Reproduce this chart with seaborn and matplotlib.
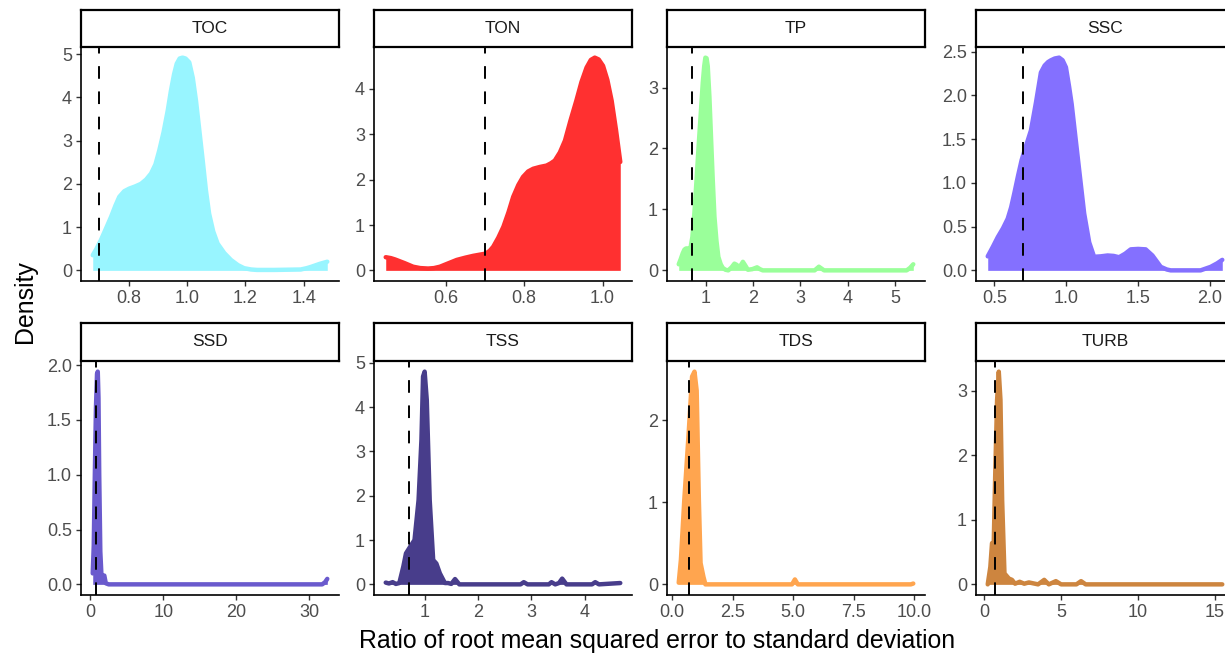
import matplotlib
matplotlib.use("Agg")
import matplotlib.pyplot as plt
import seaborn as sns
import pandas as pd

# ---------------- data ----------------
variables = ["TOC", "TON", "TP", "SSC", "SSD", "TSS", "TDS", "TURB"]
colors = ["#98F5FF", "#FF3030", "#9AFF9A", "#8470FF",
          "#6A5ACD", "#483D8B", "#FFA54F", "#CD853F"]
threshold = 0.7

toc_x = [0.677, 0.69, 0.705, 0.722, 0.740, 0.755, 0.768, 0.785, 0.802, 0.822, 0.842, 0.860,
         0.877, 0.892, 0.905, 0.920, 0.934, 0.945, 0.956, 0.965, 0.975, 0.985, 0.995, 1.008,
         1.020, 1.031, 1.043, 1.054, 1.065, 1.076, 1.090, 1.105, 1.128, 1.151, 1.175, 1.196,
         1.220, 1.240, 1.300, 1.390, 1.410, 1.425, 1.455, 1.481]
toc_d = [0.35, 0.50, 0.70, 0.96, 1.24, 1.50, 1.70, 1.83, 1.89, 1.94, 2.00, 2.10,
         2.24, 2.45, 2.77, 3.20, 3.69, 4.15, 4.54, 4.78, 4.90, 4.92, 4.90, 4.81,
         4.45, 3.92, 3.20, 2.54, 1.85, 1.31, 0.90, 0.62, 0.40, 0.24, 0.12, 0.05,
         0.02, 0.01, 0.01, 0.02, 0.05, 0.08, 0.15, 0.20]

ton_x = [0.447, 0.460, 0.471, 0.495, 0.517, 0.535, 0.555, 0.570, 0.585, 0.605, 0.628, 0.650,
         0.670, 0.702, 0.712, 0.721, 0.734, 0.747, 0.760, 0.772, 0.785, 0.797, 0.810, 0.823,
         0.840, 0.857, 0.868, 0.878, 0.891, 0.904, 0.918, 0.933, 0.946, 0.959, 0.970, 0.980,
         0.990, 1.001, 1.012, 1.023, 1.034, 1.045]
ton_d = [0.29, 0.27, 0.24, 0.16, 0.08, 0.05, 0.04, 0.05, 0.08, 0.15, 0.23, 0.28,
         0.32, 0.37, 0.43, 0.52, 0.72, 0.96, 1.28, 1.62, 1.88, 2.06, 2.18, 2.24,
         2.28, 2.31, 2.36, 2.42, 2.60, 2.86, 3.30, 3.74, 4.15, 4.47, 4.64, 4.69,
         4.65, 4.51, 4.20, 3.74, 3.10, 2.39]

tp_x = [0.42, 0.46, 0.505, 0.54, 0.575, 0.62, 0.667, 0.71, 0.752, 0.795, 0.837, 0.885, 0.93,
        0.96, 0.985, 1.01, 1.035, 1.07, 1.106, 1.14, 1.177, 1.22, 1.26, 1.31, 1.354, 1.41,
        1.47, 1.54, 1.60, 1.65, 1.69, 1.74, 1.78, 1.83, 1.885, 1.98, 2.08, 2.14, 2.20,
        3.30, 3.39, 3.50, 5.25, 5.32, 5.39]
tp_d = [0.10, 0.18, 0.28, 0.34, 0.36, 0.36, 0.36, 0.55, 0.94, 1.45, 1.98, 2.55, 3.08,
        3.35, 3.49, 3.48, 3.35, 2.85, 2.15, 1.50, 0.88, 0.48, 0.22, 0.10, 0.04, 0.01,
        0.0, 0.05, 0.11, 0.09, 0.05, 0.09, 0.14, 0.08, 0.01, 0.02, 0.05, 0.02, 0.0,
        0.0, 0.06, 0.0, 0.0, 0.04, 0.10]

ssc_x = [0.454, 0.490, 0.524, 0.560, 0.593, 0.617, 0.639, 0.665, 0.690, 0.720, 0.755, 0.790,
         0.810, 0.824, 0.850, 0.874, 0.894, 0.920, 0.951, 0.975, 0.998, 1.020, 1.038, 1.056,
         1.090, 1.125, 1.160, 1.194, 1.240, 1.288, 1.330, 1.368, 1.410, 1.449, 1.500, 1.553,
         1.600, 1.658, 1.700, 1.727, 1.935, 2.005, 2.050, 2.086]
ssc_d = [0.16, 0.27, 0.38, 0.48, 0.59, 0.72, 0.88, 1.08, 1.26, 1.42, 1.60, 1.92,
         2.12, 2.26, 2.34, 2.38, 2.40, 2.42, 2.43, 2.40, 2.32, 2.10, 1.90, 1.64,
         1.15, 0.65, 0.32, 0.155, 0.16, 0.17, 0.165, 0.15, 0.19, 0.24, 0.245, 0.24,
         0.17, 0.04, 0.01, 0.0, 0.0, 0.04, 0.08, 0.12]

ssd_x = [0.31, 0.45, 0.6, 0.75, 0.9, 1.0, 1.1, 1.2, 1.35, 1.5, 1.7, 1.9, 2.1, 2.5, 31.8, 32.2, 32.5]
ssd_d = [0.10, 0.35, 1.0, 1.6, 1.92, 1.94, 1.7, 1.0, 0.3, 0.09, 0.08, 0.08, 0.01, 0.0, 0.0, 0.02, 0.05]

tss_x = [0.27, 0.33, 0.40, 0.46, 0.525, 0.60, 0.65, 0.75, 0.81, 0.886, 0.94, 0.97, 1.0, 1.04,
         1.095, 1.16, 1.22, 1.285, 1.38, 1.44, 1.50, 1.57, 1.65, 2.80, 2.86, 2.93, 3.33, 3.38,
         3.45, 3.52, 3.58, 3.66, 4.14, 4.20, 4.27, 4.67]
tss_d = [0.04, 0.02, 0.05, 0.01, 0.03, 0.4, 0.7, 0.89, 1.0, 1.9, 3.26, 4.69, 4.8, 4.16,
         1.9, 0.55, 0.47, 0.25, 0.03, 0.03, 0.01, 0.12, 0.0, 0.0, 0.05, 0.0, 0.0, 0.05,
         0.0, 0.03, 0.13, 0.0, 0.0, 0.05, 0.0, 0.03]

tds_x = [0.28, 0.37, 0.51, 0.69, 0.83, 0.93, 1.02, 1.11, 1.18, 1.30, 1.38, 4.95, 5.07, 5.19, 9.85, 9.95]
tds_d = [0.02, 0.30, 1.03, 1.84, 2.53, 2.59, 2.36, 1.03, 0.26, 0.09, 0.0, 0.0, 0.06, 0.0, 0.0, 0.01]

turb_x = [0.22, 0.39, 0.5, 0.61, 0.72, 0.83, 0.94, 1.05, 1.16, 1.31, 1.6, 1.8, 2.0, 2.3, 2.6,
          2.9, 3.5, 3.9, 4.2, 4.66, 5.0, 6.0, 6.3, 6.6, 15.5]
turb_d = [0.0, 0.27, 0.64, 0.62, 1.83, 2.86, 3.30, 2.86, 1.3, 0.17, 0.09, 0.07, 0.01, 0.04, 0.01,
          0.03, 0.0, 0.07, 0.0, 0.05, 0.0, 0.0, 0.05, 0.0, 0.0]

x_ticks = {
    "TOC": [0.8, 1.0, 1.2, 1.4], "TON": [0.6, 0.8, 1.0], "TP": [1, 2, 3, 4, 5],
    "SSC": [0.5, 1.0, 1.5, 2.0], "SSD": [0, 10, 20, 30], "TSS": [1, 2, 3, 4],
    "TDS": [0.0, 2.5, 5.0, 7.5, 10.0], "TURB": [0, 5, 10, 15],
}
x_ticklabels = {
    "TOC": ["0.8", "1.0", "1.2", "1.4"], "TON": ["0.6", "0.8", "1.0"], "TP": ["1", "2", "3", "4", "5"],
    "SSC": ["0.5", "1.0", "1.5", "2.0"], "SSD": ["0", "10", "20", "30"], "TSS": ["1", "2", "3", "4"],
    "TDS": ["0.0", "2.5", "5.0", "7.5", "10.0"], "TURB": ["0", "5", "10", "15"],
}
y_ticks = {
    "TOC": [0, 1, 2, 3, 4, 5], "TON": [0, 1, 2, 3, 4], "TP": [0, 1, 2, 3],
    "SSC": [0.0, 0.5, 1.0, 1.5, 2.0, 2.5], "SSD": [0.0, 0.5, 1.0, 1.5, 2.0],
    "TSS": [0, 1, 2, 3, 4, 5], "TDS": [0, 1, 2], "TURB": [0, 1, 2, 3],
}
y_ticklabels = {
    "TOC": ["0", "1", "2", "3", "4", "5"], "TON": ["0", "1", "2", "3", "4"], "TP": ["0", "1", "2", "3"],
    "SSC": ["0.0", "0.5", "1.0", "1.5", "2.0", "2.5"], "SSD": ["0.0", "0.5", "1.0", "1.5", "2.0"],
    "TSS": ["0", "1", "2", "3", "4", "5"], "TDS": ["0", "1", "2"], "TURB": ["0", "1", "2", "3"],
}

curves = {
    "TOC": (toc_x, toc_d), "TON": (ton_x, ton_d), "TP": (tp_x, tp_d), "SSC": (ssc_x, ssc_d),
    "SSD": (ssd_x, ssd_d), "TSS": (tss_x, tss_d), "TDS": (tds_x, tds_d), "TURB": (turb_x, turb_d),
}

x_title = "Ratio of root mean squared error to standard deviation"
y_title = "Density"

# ---------------- style / layout ----------------
sns.set_style("ticks")
plt.rcParams['font.family'] = ['Liberation Sans', 'DejaVu Sans']

W, H = 1225, 653
fig = plt.figure(figsize=(W / 100, H / 100), dpi=100)


def rect(left, top, w, h):
    return [left / W, 1 - (top + h) / H, w / W, h / H]


cols_left = [81, 374, 667, 976]
PW = 258
rows = [(10, 47, 281), (323, 361, 595)]

for i, var in enumerate(variables):
    r, c = divmod(i, 4)
    left = cols_left[c]
    strip_top, top, bottom = rows[r]
    col = colors[i]
    xs, ds = curves[var]
    df = pd.DataFrame({"x": xs, "density": ds})

    ax = fig.add_axes(rect(left, top, PW, bottom - top))
    ax.fill_between(df["x"], 0, df["density"], color=col, lw=0, zorder=1)
    sns.lineplot(data=df, x="x", y="density", ax=ax, color=col, lw=3.2, sort=False,
                 solid_capstyle="round", solid_joinstyle="round", zorder=2)
    ax.axvline(threshold, color="black", lw=1.4, dashes=(6.5, 6.5), zorder=3)

    xr = max(xs) - min(xs)
    ax.set_xlim(min(xs) - 0.05 * xr, max(xs) + 0.05 * xr)
    ymax = max(ds)
    ax.set_ylim(-0.05 * ymax, 1.05 * ymax)

    ax.set_xticks(x_ticks[var])
    ax.set_xticklabels(x_ticklabels[var])
    ax.set_yticks(y_ticks[var])
    ax.set_yticklabels(y_ticklabels[var])
    ax.set_xlabel("")
    ax.set_ylabel("")
    ax.set_facecolor("white")
    for s in ["top", "right"]:
        ax.spines[s].set_visible(False)
    for s in ["left", "bottom"]:
        ax.spines[s].set_color("black")
        ax.spines[s].set_linewidth(1.2)
    ax.tick_params(axis="both", colors="#333333", length=3.5, width=1.0, pad=3,
                   labelsize=13, labelcolor="#4D4D4D")
    ax.grid(False)

    sax = fig.add_axes(rect(left, strip_top, PW, top - strip_top))
    sax.set_xticks([])
    sax.set_yticks([])
    sax.set_facecolor("white")
    for s in sax.spines.values():
        s.set_visible(True)
        s.set_color("black")
        s.set_linewidth(1.6)
    sax.text(0.5, 0.5, var, ha="center", va="center", fontsize=12.5, color="#1A1A1A",
             transform=sax.transAxes)

fig.text(657 / W, 1 - 641 / H, x_title, ha="center", va="center", fontsize=17.9, color="black")
fig.text(25 / W, 1 - 302 / H, y_title, ha="center", va="center", rotation=90, fontsize=17.9,
         color="black")

fig.savefig("out.png", dpi=100)
